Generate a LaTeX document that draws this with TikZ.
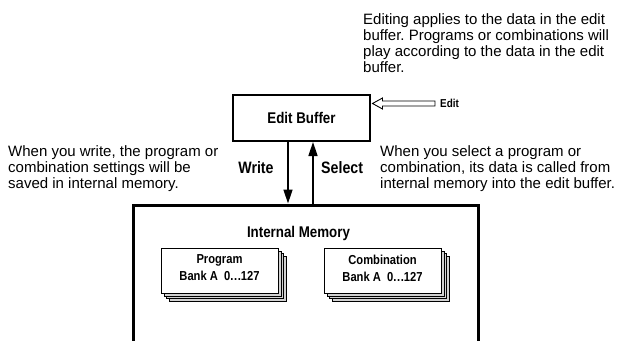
\documentclass[tikz,border=0pt]{standalone}
\usepackage{fontspec}
\setmainfont{Liberation Sans}
\newfontfamily\condf[FakeStretch=0.86]{Liberation Sans}
\usetikzlibrary{arrows.meta,calc}
\frenchspacing
\tikzset{
  body/.style={font=\fontsize{15}{16}\selectfont\frenchspacing, anchor=north west, inner sep=0pt, align=left},
  lbl/.style={font=\condf\bfseries\fontsize{15.5}{17}\selectfont, inner sep=0pt},
  wslbl/.style={font=\condf\bfseries\fontsize{16.5}{18}\selectfont, inner sep=0pt},
  arr/.style={line width=1.6pt, -{Triangle[length=14pt,width=9pt]}},
  card/.style={draw, line width=0.8pt, minimum width=117pt, minimum height=45pt, inner sep=0pt},
  cardtxt/.style={font=\condf\bfseries\fontsize{13}{15}\selectfont, align=center}
}
\begin{document}
\begin{tikzpicture}[x=1pt,y=-1pt]
\useasboundingbox (0,0) rectangle (620,340);
% texts
\node[body] (toptext) at (363,13) {Editing applies to the data in the edit\\buffer. Programs or combinations will\\play according to the data in the edit\\buffer.};
\node[body] (lefttext) at (8,145) {When you write, the program or\\combination settings will be\\saved in internal memory.};
\node[body] (righttext) at (380,145) {When you select a program or\\combination, its data is called from\\internal memory into the edit buffer.};
% edit buffer
\node[draw, line width=2pt, minimum width=137pt, minimum height=46pt, inner sep=0pt, lbl] (eb) at (301.5,118) {Edit Buffer};
% internal memory
\node[draw, line width=3pt, minimum width=345pt, minimum height=200pt, inner sep=0pt] (im) at (305.5,305) {};
\node[lbl] (imlbl) at (298.5,233) {Internal Memory};
% write / select
\coordinate (wx) at (288,0);
\coordinate (sx) at (313,0);
\draw[arr] (eb.south -| wx) -- (im.north -| wx);
\draw[arr] (im.north -| sx) -- (eb.south -| sx);
\node[wslbl] (write) at (256,168) {Write};
\node[wslbl, anchor=west] (select) at (321,168) {Select};
% edit arrow
\coordinate (editend) at (435,103.5);
\coordinate (edittip) at ($(eb.east |- editend)+(1.5,0)$);
\draw[line width=0.9pt, fill=white, line join=miter] (edittip) -- ++(10,-5.5) -- ++(0,3) -- ($(editend)+(0,-2.5)$) -- ($(editend)+(0,2.5)$) -- ($(edittip)+(10,2.5)$) -- ++(0,3) -- cycle;
\node[lbl, font=\condf\bfseries\fontsize{11.5}{13}\selectfont, anchor=west] (editlbl) at ($(editend)+(5,0)$) {Edit};
% cards
\foreach \d in {3,2,1} {
  \node[card, fill=gray!35] at ($(219.5,270.5)+(2.9*\d,2.9*\d)$) {};
  \node[card, fill=gray!35] at ($(382.5,270.5)+(2.9*\d,2.9*\d)$) {};
}
\node[card, fill=white] (prog) at (219.5,270.5) {};
\node[card, fill=white] (comb) at (382.5,270.5) {};
\node[cardtxt] (progtxt) at ($(prog)+(0,-2.5)$) {Program\\[2pt]Bank A~~0.\kern0.6pt.\kern0.6pt.127};
\node[cardtxt] (combtxt) at ($(comb)+(0,-2.5)$) {Combination\\[2pt]Bank A~~0.\kern0.6pt.\kern0.6pt.127};
\end{tikzpicture}
\end{document}
